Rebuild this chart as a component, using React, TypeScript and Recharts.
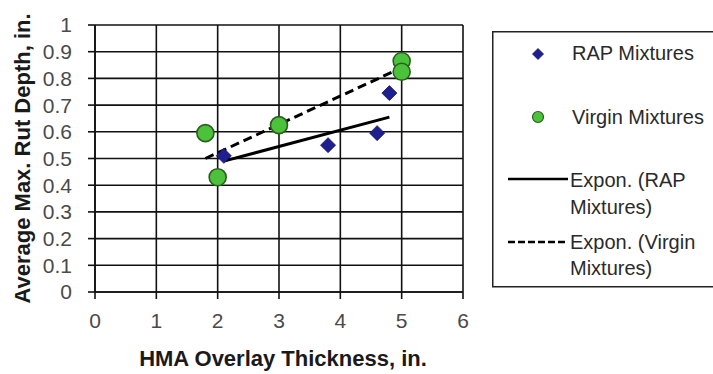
import { CartesianGrid, Legend, Scatter, ScatterChart, XAxis, YAxis } from "recharts";

// Overlay thickness (in.) vs. average max rut depth (in.)
const rapThickness = [2.1, 3.8, 4.6, 4.8];
const rapRutDepth = [0.51, 0.55, 0.595, 0.745];

const virginThickness = [1.8, 2.0, 3.0, 5.0, 5.0];
const virginRutDepth = [0.595, 0.43, 0.625, 0.865, 0.825];

// exponential trendline end points
const rapTrendThickness = [2.1, 4.8];
const rapTrendDepth = [0.49, 0.655];
const virginTrendThickness = [1.8, 5.0];
const virginTrendDepth = [0.5, 0.84];

const xTicks = [0, 1, 2, 3, 4, 5, 6];
const yTicks = [0, 0.1, 0.2, 0.3, 0.4, 0.5, 0.6, 0.7, 0.8, 0.9, 1];

const FONT = '"Liberation Sans", Arial, sans-serif';
const NAVY = "#1f1f8f";
const GREEN = "#4cc23c";
const GREEN_EDGE = "#2b5e1e";

const toPoints = (xs: number[], ys: number[]) => xs.map((x, i) => ({ x, y: ys[i] }));

const rapData = toPoints(rapThickness, rapRutDepth);
const virginData = toPoints(virginThickness, virginRutDepth);
const rapTrend = toPoints(rapTrendThickness, rapTrendDepth);
const virginTrend = toPoints(virginTrendThickness, virginTrendDepth);

function Diamond({ cx, cy, r = 7.5 }: { cx?: number; cy?: number; r?: number }) {
  if (cx == null || cy == null) return <g />;
  return (
    <polygon
      points={`${cx},${cy - r} ${cx + r},${cy} ${cx},${cy + r} ${cx - r},${cy}`}
      fill={NAVY}
      stroke="#15155e"
      strokeWidth={0.8}
    />
  );
}

function Dot({ cx, cy }: { cx?: number; cy?: number }) {
  if (cx == null || cy == null) return <g />;
  return <circle cx={cx} cy={cy} r={8.5} fill={GREEN} stroke={GREEN_EDGE} strokeWidth={1.6} />;
}

const Hidden = () => <g />;

function XTitle({ viewBox }: { viewBox?: { x: number; y: number; width: number } }) {
  if (!viewBox) return null;
  return (
    <text
      x={viewBox.x + viewBox.width / 2 + 4}
      y={358}
      textAnchor="middle"
      dominantBaseline="central"
      fontFamily={FONT}
      fontSize={22}
      fontWeight="bold"
      fill="#1a1a1a"
    >
      HMA Overlay Thickness, in.
    </text>
  );
}

function YTitle({ viewBox }: { viewBox?: { y: number; height: number } }) {
  if (!viewBox) return null;
  const cy = viewBox.y + viewBox.height / 2;
  return (
    <text
      x={22}
      y={cy}
      transform={`rotate(-90, 22, ${cy})`}
      textAnchor="middle"
      dominantBaseline="central"
      fontFamily={FONT}
      fontSize={22}
      fontWeight="bold"
      fill="#1a1a1a"
    >
      Average Max. Rut Depth, in.
    </text>
  );
}

function LegendBox() {
  const label = { fontFamily: FONT, fontSize: 20, fill: "#2a2a2a", dominantBaseline: "central" as const };
  return (
    <svg width={240} height={260} style={{ display: "block", overflow: "visible" }}>
      <rect x={0.75} y={0.75} width={260} height={255} fill="#fff" stroke="#222" strokeWidth={1.5} />
      <Diamond cx={46} cy={23} r={5.5} />
      <text x={80} y={22} {...label}>RAP Mixtures</text>
      <circle cx={46} cy={86} r={5.5} fill={GREEN} stroke={GREEN_EDGE} strokeWidth={1.2} />
      <text x={80} y={86} {...label}>Virgin Mixtures</text>
      <line x1={16} x2={76} y1={148} y2={148} stroke="#000" strokeWidth={2.5} />
      <text x={78} y={149} {...label}>Expon. (RAP</text>
      <text x={78} y={176} {...label}>Mixtures)</text>
      <line x1={16} x2={76} y1={211} y2={211} stroke="#000" strokeWidth={2.5} strokeDasharray="7 3" />
      <text x={78} y={211} {...label}>Expon. (Virgin</text>
      <text x={78} y={237} {...label}>Mixtures)</text>
    </svg>
  );
}

export default function App() {
  const tick = { fill: "#4a4a4a", fontSize: 21, fontFamily: FONT };
  return (
    <div style={{ position: "absolute", left: 0, top: 0, background: "#fff" }}>
      <ScatterChart width={713} height={374} margin={{ top: 25, right: 250, bottom: 0, left: 0 }}>
        <CartesianGrid stroke="#111" strokeWidth={1.6} />
        <XAxis
          type="number"
          dataKey="x"
          domain={[0, 6]}
          ticks={xTicks}
          interval={0}
          height={82}
          tick={tick}
          tickSize={7}
          tickMargin={14}
          axisLine={{ stroke: "#111", strokeWidth: 1.6 }}
          tickLine={{ stroke: "#111", strokeWidth: 1.6 }}
          label={<XTitle />}
        />
        <YAxis
          type="number"
          dataKey="y"
          domain={[0, 1]}
          ticks={yTicks}
          interval={0}
          width={95}
          tick={tick}
          tickSize={7}
          tickMargin={16}
          axisLine={{ stroke: "#111", strokeWidth: 1.6 }}
          tickLine={{ stroke: "#111", strokeWidth: 1.6 }}
          label={<YTitle />}
        />
        <Legend
          layout="vertical"
          align="center"
          verticalAlign="middle"
          content={<LegendBox />}
          wrapperStyle={{ left: 492, top: 31, width: 240, height: 260 }}
        />
        <Scatter
          name="Expon. (RAP Mixtures)"
          data={rapTrend}
          line={{ stroke: "#000", strokeWidth: 3 }}
          shape={Hidden}
          isAnimationActive={false}
        />
        <Scatter
          name="Expon. (Virgin Mixtures)"
          data={virginTrend}
          line={{ stroke: "#000", strokeWidth: 3, strokeDasharray: "9 5" }}
          shape={Hidden}
          isAnimationActive={false}
        />
        <Scatter name="RAP Mixtures" data={rapData} shape={Diamond} isAnimationActive={false} />
        <Scatter name="Virgin Mixtures" data={virginData} shape={Dot} isAnimationActive={false} />
      </ScatterChart>
    </div>
  );
}
